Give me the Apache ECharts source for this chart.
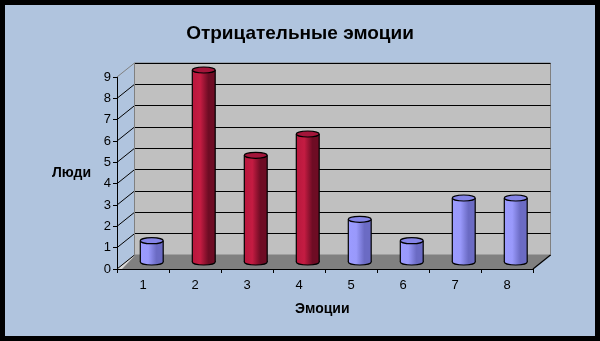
<!DOCTYPE html>
<html><head><meta charset="utf-8">
<script src="https://cdn.jsdelivr.net/npm/echarts@6/dist/echarts.min.js"></script>
<style>html,body{margin:0;padding:0;background:#000}#c{width:600px;height:341px}</style>
</head><body><div id="c"></div>
<script>
const categories = ['1','2','3','4','5','6','7','8'];
const values = [1, 9, 5, 6, 2, 1, 3, 3];
const barKinds = ['blue','red','red','red','blue','blue','blue','blue'];
const yTicks = [0,1,2,3,4,5,6,7,8,9];
const titleText = 'Отрицательные эмоции';
const yName = 'Люди';
const xName = 'Эмоции';

const DX = 17.5, DY = -14; // depth offset of the 3D box
const FONT = 'Liberation Sans, Arial, sans-serif';

const palette = {
  red:  {l:'#b8173d', m:'#c41c42', r:'#6e0c24', top:'#a3153a'},
  blue: {l:'#9b9bff', m:'#9999fb', r:'#6b6bc4', top:'#8585e6'}
};

function grad(p){
  return new echarts.graphic.LinearGradient(0,0,1,0,[
    {offset:0,color:p.l},{offset:0.35,color:p.m},{offset:0.7,color:p.r},{offset:1,color:p.r}
  ]);
}

const chart = echarts.init(document.getElementById('c'), null, {renderer:'canvas'});

const yAxisBase = {type:'value', min:0, max:9, interval:1};
const xAxisBase = {type:'category', data:categories, boundaryGap:true};

const option = {
  backgroundColor:'#b0c4de',
  animation:false,
  title:{text:titleText, left:'center', top:19,
    textStyle:{fontFamily:FONT, fontSize:19, fontWeight:'bold', color:'#000'}},
  grid:[
    {left:117, right:67, top:77, bottom:72},
    {left:134.5, right:49.5, top:63, bottom:86, show:true, backgroundColor:'#c0c0c0', borderColor:'#808080', borderWidth:1},
    {left:125.75, right:58.25, top:70, bottom:79}
  ],
  xAxis:[
    Object.assign({}, xAxisBase, {gridIndex:0,
      axisLine:{lineStyle:{color:'#000',width:1}},
      axisTick:{show:true,length:4,lineStyle:{color:'#000'}},
      axisLabel:{color:'#000',fontSize:13,fontFamily:FONT,margin:10},
      splitLine:{show:false}}),
    Object.assign({}, xAxisBase, {gridIndex:1, show:false}),
    Object.assign({}, xAxisBase, {gridIndex:2, show:false})
  ],
  yAxis:[
    Object.assign({}, yAxisBase, {gridIndex:0,
      axisLine:{show:true,lineStyle:{color:'#000'}},
      axisTick:{show:true,length:4,lineStyle:{color:'#000'}},
      axisLabel:{color:'#000',fontSize:13,fontFamily:FONT,margin:6,
        formatter:v=>yTicks.indexOf(v)>=0?String(v):''},
      splitLine:{show:false}}),
    Object.assign({}, yAxisBase, {gridIndex:1,
      axisLine:{show:false}, axisTick:{show:false}, axisLabel:{show:false},
      splitLine:{show:true,lineStyle:{color:'#000',width:1.2}}}),
    Object.assign({}, yAxisBase, {gridIndex:2, show:false})
  ],
  graphic:[
    {type:'text', left:52, top:166, style:{text:yName, font:'bold 14px '+FONT, fill:'#000'}},
    {type:'text', left:295, top:302, style:{text:xName, font:'bold 14px '+FONT, fill:'#000'}},
    {type:'rect', shape:{x:2.5,y:2.5,width:595,height:336}, style:{fill:'none',stroke:'#000',lineWidth:5}, z:100}
  ],
  series:[
    {
      type:'custom', xAxisIndex:0, yAxisIndex:0, data:[0], z:1,
      renderItem:function(params, api){
        const bw = api.size([1,0])[0];
        const p0 = api.coord([0,0]);
        const pN = api.coord([categories.length-1,0]);
        const xl = p0[0]-bw/2, xr = pN[0]+bw/2, yb = p0[1];
        const children = [];
        children.push({type:'polygon', shape:{points:[[xl,yb],[xr,yb],[xr+DX,yb+DY],[xl+DX,yb+DY]]},
          style:{fill:'#808080'}});
        children.push({type:'polygon', shape:{points:[[xl,yb],[xl+DX,yb+DY],[xl+DX,yb+DY+1],[xl+5,yb]]},
          style:{fill:'#d8d8d8'}});
        yTicks.forEach(function(t){
          const p = api.coord([0,t]);
          children.push({type:'line', shape:{x1:xl,y1:p[1],x2:xl+DX,y2:p[1]+DY},
            style:{stroke: t===9 ? '#808080':'#000', lineWidth:1}});
        });
        children.push({type:'line', shape:{x1:xl+DX,y1:yb+DY,x2:xl+DX,y2:api.coord([0,9])[1]+DY},
          style:{stroke:'#808080',lineWidth:1}});
        children.push({type:'line', shape:{x1:xr,y1:yb,x2:xr+DX,y2:yb+DY},
          style:{stroke:'#000',lineWidth:1.2}});
        return {type:'group', children:children};
      }
    },
    {
      type:'custom', xAxisIndex:2, yAxisIndex:2, z:5,
      data: values.map((v,i)=>[i,v]),
      renderItem:function(params, api){
        const i = api.value(0), v = api.value(1);
        const top = api.coord([i,v]);
        const base = api.coord([i,0]);
        const bw = api.size([1,0])[0];
        const w = bw*0.44, rx = w/2, ry = 3;
        const p = palette[barKinds[params.dataIndex]];
        const g = grad(p);
        const x0 = top[0]-rx;
        return {type:'group', children:[
          {type:'ellipse', shape:{cx:top[0],cy:base[1],rx:rx,ry:ry}, style:{fill:g,stroke:'#000',lineWidth:1.2}},
          {type:'rect', shape:{x:x0,y:top[1],width:w,height:base[1]-top[1]}, style:{fill:g}},
          {type:'line', shape:{x1:x0,y1:top[1],x2:x0,y2:base[1]}, style:{stroke:'#000',lineWidth:1.2}},
          {type:'line', shape:{x1:x0+w,y1:top[1],x2:x0+w,y2:base[1]}, style:{stroke:'#000',lineWidth:1.2}},
          {type:'ellipse', shape:{cx:top[0],cy:top[1],rx:rx,ry:ry}, style:{fill:p.top,stroke:'#000',lineWidth:1.2}}
        ]};
      }
    }
  ]
};
chart.setOption(option);
</script></body></html>
